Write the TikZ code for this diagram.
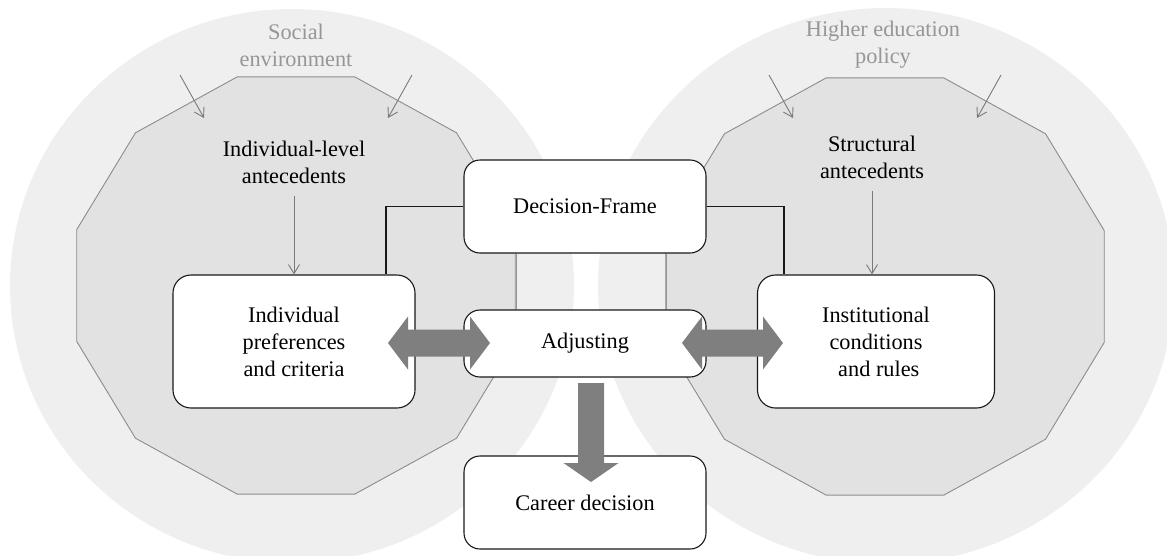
\documentclass[tikz,border=0pt]{standalone}
\usepackage{fontspec}
\setmainfont{Liberation Serif}
\usetikzlibrary{calc,arrows.meta}

\definecolor{outerbg}{HTML}{EFEFEF}
\definecolor{innerbg}{HTML}{E2E2E2}
\definecolor{polyline}{HTML}{8C8C8C}
\definecolor{labelgrey}{HTML}{969696}
\definecolor{fatgrey}{HTML}{7F7F7F}
\definecolor{thingrey}{HTML}{7A7A7A}

% fat grey double-headed arrow between two tip points
\newcommand\fatdoublearrow[2]{%
  \fill[fatgrey] (#1) -- ($(#1)+(20,-26.5)$) -- ($(#1)+(20,-13.5)$)
    -- ($(#2)+(-20,-13.5)$) -- ($(#2)+(-20,-26.5)$) -- (#2)
    -- ($(#2)+(-20,26.5)$) -- ($(#2)+(-20,13.5)$)
    -- ($(#1)+(20,13.5)$) -- ($(#1)+(20,26.5)$) -- cycle;}

\begin{document}
\begin{tikzpicture}[x=1pt,y=-1pt,
  every node/.style={font=\fontsize{22.3}{27}\selectfont, align=center, inner sep=0pt},
  box/.style={draw=black!90, line width=1.1pt, fill=white, rounded corners=16pt},
  envlabel/.style={text=labelgrey},
  plainlabel/.style={text=black},
  link/.style={draw=black!90, line width=1.1pt},
  softlink/.style={draw=thingrey!80, line width=0.9pt},
  thinarrow/.style={draw=thingrey, line width=0.9pt, -{Straight Barb[length=9pt,width=11pt]}},
  zone/.style={fill=innerbg, draw=polyline, line width=0.9pt}]

\useasboundingbox (0,0) rectangle (1167,555);

% outer environments
\fill[outerbg] (292,286) ellipse [x radius=282pt, y radius=277pt];
\fill[outerbg] (886,286) ellipse [x radius=288pt, y radius=278pt];

% inner dodecagons
\filldraw[zone] plot[samples at={15,45,...,345}, variable=\t]
  ({296+227*cos(\t)},{285.5+216*sin(\t)}) -- cycle;
\filldraw[zone] plot[samples at={15,45,...,345}, variable=\t]
  ({885+227*cos(\t)},{286.5+216*sin(\t)}) -- cycle;

% environment labels
\node[envlabel] (soc) at (296,45) {Social\\environment};
\node[envlabel] (hep) at (883,45) {Higher education\\policy};

% influences entering from the environment
\coordinate (sl1) at (180,75);  \coordinate (el1) at (204,118);
\coordinate (sl2) at (412,75);  \coordinate (el2) at (388,118);
\coordinate (sr1) at (769,75);  \coordinate (er1) at (793,118);
\coordinate (sr2) at (1001,75); \coordinate (er2) at (977,118);
\draw[thinarrow] (sl1) -- (el1);
\draw[thinarrow] (sl2) -- (el2);
\draw[thinarrow] (sr1) -- (er1);
\draw[thinarrow] (sr2) -- (er2);

% antecedents
\node[plainlabel] (ila) at (294,162) {Individual-level\\antecedents};
\node[plainlabel] (sta) at (872,157) {Structural\\antecedents};

% boxes
\node[box, minimum width=242pt, minimum height=93pt] (df) at (585,206.5) {Decision-Frame};
\node[box, minimum width=242pt, minimum height=67pt] (adj) at (585,343.5) {Adjusting};
\node[box, minimum width=242pt, minimum height=93pt] (career) at (585,502.5) {Career decision};
\node[box, minimum width=242pt, minimum height=133pt, rounded corners=18pt] (indiv) at (294,341.5)
  {Individual\\preferences\\and criteria};
\node[box, minimum width=237pt, minimum height=133pt, rounded corners=18pt] (inst) at (876,341.5)
  {Institutional\\conditions\\\ and rules};

% antecedent arrows
\draw[thinarrow] ([yshift=-12pt]ila.south) -- (ila.south |- indiv.north);
\draw[thinarrow] ([yshift=-12pt]sta.south) -- (sta.south |- inst.north);

% frame links
\draw[link] (df.west) -| (386,0 |- indiv.north);
\draw[link] (df.east) -| (784,0 |- inst.north);
\draw[softlink] (516,0 |- df.south) -- (516,0 |- adj.north);
\draw[softlink] (666,0 |- df.south) -- (666,0 |- adj.north);

% fat arrows
\coordinate (la) at (388,343);  \coordinate (lb) at (490,343);
\coordinate (ra) at (682,343);  \coordinate (rb) at (783,343);
\fatdoublearrow{la}{lb}
\fatdoublearrow{ra}{rb}
\coordinate (da) at (591,383);  \coordinate (db) at (591,482);
\fill[fatgrey] ($(da)+(-13,0)$) -- ($(db)+(-13,-19)$) -- ($(db)+(-27.5,-19)$) -- (db)
  -- ($(db)+(27.5,-19)$) -- ($(db)+(13,-19)$) -- ($(da)+(13,0)$) -- cycle;

\end{tikzpicture}
\end{document}
